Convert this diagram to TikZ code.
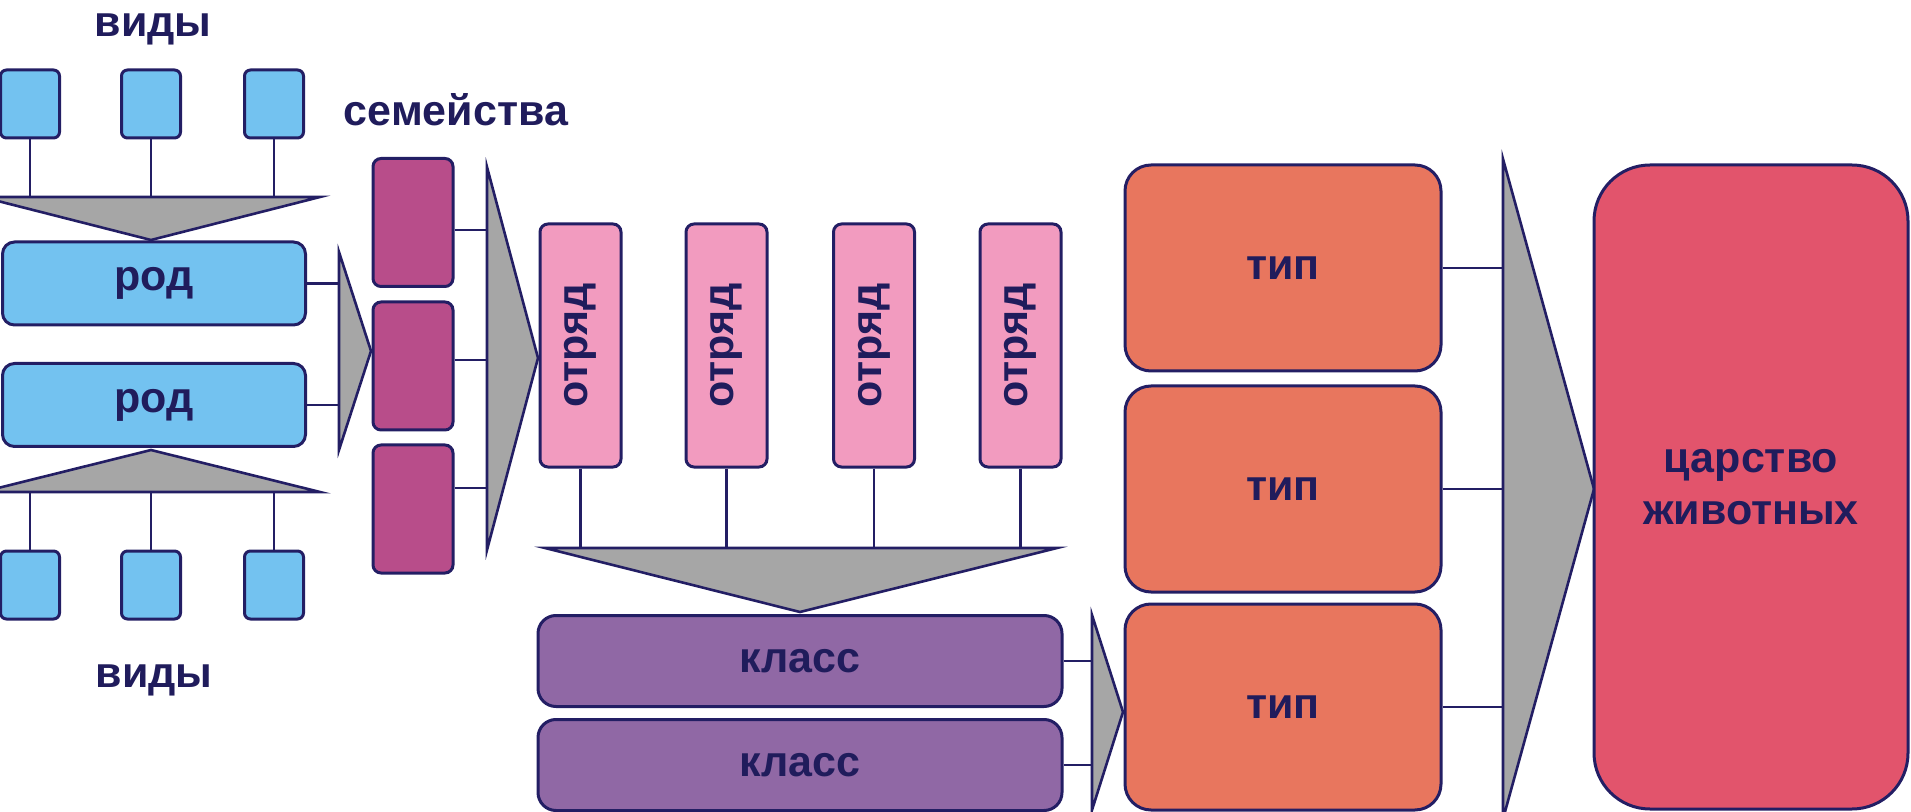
\documentclass[tikz,border=0pt]{standalone}
\usepackage{fontspec}
\usepackage{graphicx}
\setmainfont{Liberation Sans}
\definecolor{navy}{RGB}{35,30,100}
\definecolor{ink}{RGB}{32,28,92}
\definecolor{sky}{RGB}{115,194,240}
\definecolor{gry}{RGB}{166,166,166}
\definecolor{famc}{RGB}{184,77,138}
\definecolor{ordc}{RGB}{242,155,191}
\definecolor{clsc}{RGB}{144,104,165}
\definecolor{typc}{RGB}{232,118,94}
\definecolor{kngc}{RGB}{226,84,108}
\tikzset{
  box/.style={draw=navy, line width=1.5pt, text=ink, inner sep=0pt, align=center,
    font=\bfseries\fontsize{21.5}{26}\selectfont},
  lbl/.style={text=ink, inner sep=0pt, font=\bfseries\fontsize{21.5}{26}\selectfont},
  tri/.style={fill=gry, draw=navy, line width=1.3pt, line join=miter},
  link/.style={draw=navy, line width=1.1pt},
  sq/.style={box, fill=sky, rounded corners=3pt, minimum width=29.5pt, minimum height=34pt},
  rod/.style={box, fill=sky, rounded corners=6pt, minimum width=151.5pt, minimum height=41.5pt},
  fam/.style={box, fill=famc, rounded corners=4pt, minimum width=40pt, minimum height=64pt},
  ord/.style={box, fill=ordc, rounded corners=4pt, minimum width=40.5pt, minimum height=121.5pt},
  cls/.style={box, fill=clsc, rounded corners=9pt, minimum width=262pt, minimum height=45.5pt},
  typ/.style={box, fill=typc, rounded corners=13pt, minimum width=158pt, minimum height=103pt},
  kng/.style={box, fill=kngc, rounded corners=28pt, minimum width=157pt, minimum height=322pt},
}
\begin{document}
\begin{tikzpicture}[x=0.5pt,y=-0.5pt]
\useasboundingbox (0,0) rectangle (1911,812);
\clip (0,0) rectangle (1911,812);

% labels
\node[lbl] (vt) at (153,29) {виды};
\node[lbl] (vb) at (154,680) {виды};
\node[lbl] (sem) at (456,110) {семейства};

% species squares
\node[sq] (s1) at (30,104) {};
\node[sq] (s2) at (151,104) {};
\node[sq] (s3) at (274,104) {};
\node[sq] (b1) at (30,585) {};
\node[sq] (b2) at (151,585) {};
\node[sq] (b3) at (274,585) {};

% triangles (species -> genus)
\coordinate (tA) at (-18,197);
\coordinate (tAr) at (320,197);
\coordinate (tAp) at (151,240);
\filldraw[tri] (tA) -- (tAr) -- (tAp) -- cycle;
\coordinate (tB) at (-18,492);
\coordinate (tBr) at (320,492);
\coordinate (tBp) at (151,450);
\filldraw[tri] (tB) -- (tBr) -- (tBp) -- cycle;
\foreach \n in {s1,s2,s3} \draw[link] (\n.south) -- (\n.south |- tA);
\foreach \n in {b1,b2,b3} \draw[link] (\n.north) -- (\n.north |- tB);

% genus
\node[rod] (r1) at (154,283.5) {род};
\node[rod] (r2) at (154,405) {род};

% triangle genus -> family
\coordinate (t1) at (339,252);
\coordinate (t1b) at (339,450);
\coordinate (t1p) at (371,351);
\filldraw[tri] (t1) -- (t1p) -- (t1b) -- cycle;
\draw[link] (r1.east) -- (r1.east -| t1);
\draw[link] (r2.east) -- (r2.east -| t1);

% families
\node[fam] (f1) at (413,222.5) {};
\node[fam] (f2) at (413,366) {};
\node[fam] (f3) at (413,509) {};

% triangle family -> order
\coordinate (t2) at (487,167);
\coordinate (t2b) at (487,550);
\coordinate (t2p) at (538,358);
\filldraw[tri] (t2) -- (t2p) -- (t2b) -- cycle;
\coordinate (c1) at (487,230);
\coordinate (c2) at (487,360);
\coordinate (c3) at (487,488);
\draw[link] (f1.east |- c1) -- (c1);
\draw[link] (f2.east |- c2) -- (c2);
\draw[link] (f3.east |- c3) -- (c3);

% orders
\node[ord] (o1) at (580.5,345.5) {\rotatebox{90}{отряд}};
\node[ord] (o2) at (726.5,345.5) {\rotatebox{90}{отряд}};
\node[ord] (o3) at (874,345.5) {\rotatebox{90}{отряд}};
\node[ord] (o4) at (1020.5,345.5) {\rotatebox{90}{отряд}};

% triangle order -> class
\coordinate (t3) at (545,548);
\coordinate (t3r) at (1057,548);
\coordinate (t3p) at (800,612);
\filldraw[tri] (t3) -- (t3r) -- (t3p) -- cycle;
\foreach \n in {o1,o2,o3,o4} \draw[link] (\n.south) -- (\n.south |- t3);

% classes
\node[cls] (k1) at (800,661) {класс};
\node[cls] (k2) at (800,765) {класс};

% triangle class -> type
\coordinate (t4) at (1092,615);
\coordinate (t4b) at (1092,810);
\coordinate (t4p) at (1123,712);
\filldraw[tri] (t4) -- (t4p) -- (t4b) -- cycle;
\draw[link] (k1.east) -- (k1.east -| t4);
\draw[link] (k2.east) -- (k2.east -| t4);

% types
\node[typ] (p1) at (1283,268) {тип};
\node[typ] (p2) at (1283,489) {тип};
\node[typ] (p3) at (1283,707) {тип};

% triangle type -> kingdom
\coordinate (t5) at (1503,159);
\coordinate (t5b) at (1503,819);
\coordinate (t5p) at (1594,489);
\filldraw[tri] (t5) -- (t5p) -- (t5b) -- cycle;
\draw[link] (p1.east) -- (p1.east -| t5);
\draw[link] (p2.east) -- (p2.east -| t5);
\draw[link] (p3.east) -- (p3.east -| t5);

% kingdom
\node[kng] (k) at (1751,487) {царство\\животных};
\end{tikzpicture}
\end{document}
